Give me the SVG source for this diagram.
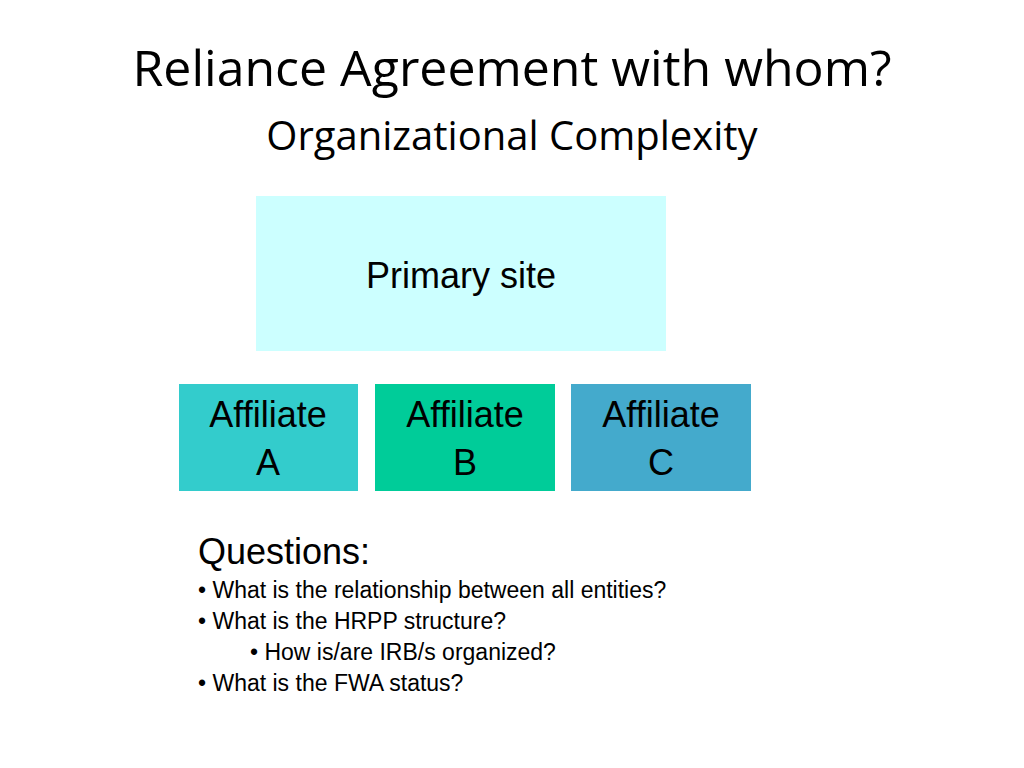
<svg xmlns="http://www.w3.org/2000/svg" width="1024" height="768" viewBox="0 0 1024 768">
<style>
.t{font-family:"Open Sans","Liberation Sans",sans-serif;fill:#000}
.a{font-family:"Liberation Sans",Arial,sans-serif;fill:#000}
</style>
<rect width="1024" height="768" fill="#fff"/>
<text class="t" x="512" y="86" font-size="50" text-anchor="middle">Reliance Agreement with whom?</text>
<text class="t" x="512" y="150" font-size="40" text-anchor="middle">Organizational Complexity</text>
<g id="primary"><rect x="256" y="196" width="410" height="155" fill="#ccffff"/>
<text class="a" x="461" y="288" font-size="36" text-anchor="middle">Primary site</text></g>
<g id="affA"><rect x="179" y="384" width="179" height="107" fill="#33cccc"/>
<text class="a" x="268" y="427" font-size="36" text-anchor="middle">Affiliate</text>
<text class="a" x="268" y="475" font-size="36" text-anchor="middle">A</text></g>
<g id="affB"><rect x="375" y="384" width="180" height="107" fill="#00cc99"/>
<text class="a" x="465" y="427" font-size="36" text-anchor="middle">Affiliate</text>
<text class="a" x="465" y="475" font-size="36" text-anchor="middle">B</text></g>
<g id="affC"><rect x="571" y="384" width="180" height="107" fill="#44aacc"/>
<text class="a" x="661" y="427" font-size="36" text-anchor="middle">Affiliate</text>
<text class="a" x="661" y="475" font-size="36" text-anchor="middle">C</text></g>
<g id="connectors"/>
<g class="a">
<text class="a" x="198" y="564" font-size="36">Questions:</text>
<text class="a" x="198" y="598" font-size="23">• What is the relationship between all entities?</text>
<text class="a" x="198" y="629" font-size="23">• What is the HRPP structure?</text>
<text class="a" x="250" y="660" font-size="23">• How is/are IRB/s organized?</text>
<text class="a" x="198" y="691" font-size="23">• What is the FWA status?</text>
</g>
</svg>
